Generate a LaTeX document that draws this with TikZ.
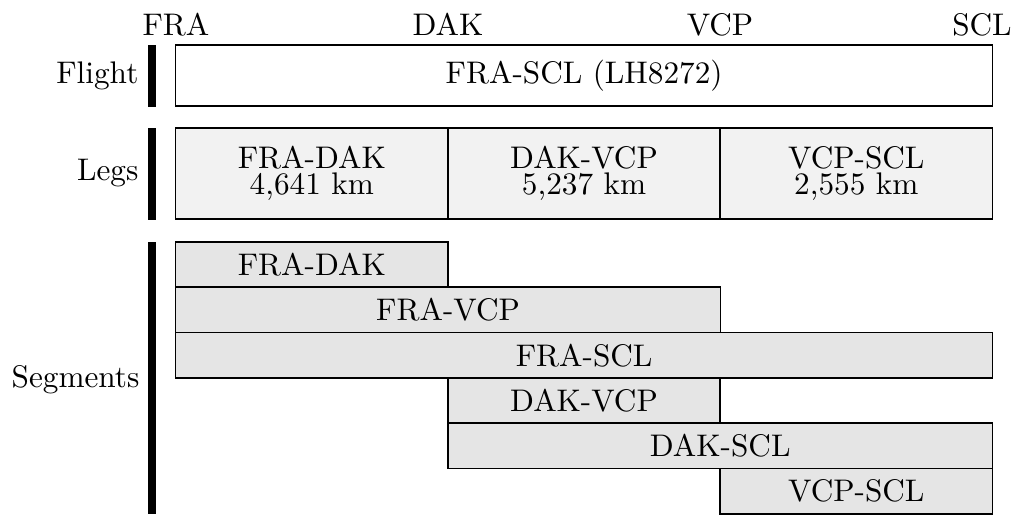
\documentclass[tikz,border=0pt]{standalone}
\usepackage{tikz}
\begin{document}
\begin{tikzpicture}[x=0.32pt,y=-0.32pt,
  box/.style={draw, line width=0.5pt, inner sep=0pt, outer sep=0pt, anchor=north west, align=center},
  flightbox/.style={box, fill=white, minimum width=261.4pt, minimum height=19.5pt},
  legbox/.style={box, fill=gray!10, minimum width=87.1pt, minimum height=29.2pt},
  segbox/.style={box, fill=gray!20, minimum height=14.5pt},
  one/.style={minimum width=87.1pt},
  two/.style={minimum width=174.3pt},
  three/.style={minimum width=261.4pt},
  stop/.style={anchor=base, inner sep=0pt},
  rowlabel/.style={anchor=east, inner sep=0pt},
  bar/.style={fill=black}]
\useasboundingbox (0,0) rectangle (1024,514);

% airports along the route
\node[stop] (fra) at (176,35) {FRA};
\node[stop] (dak) at (448,35) {DAK};
\node[stop] (vcp) at (720,35) {VCP};
\node[stop] (scl) at (982,35) {SCL};

% group bars
\fill[bar] (147.5,45) rectangle (155.5,106.5);
\fill[bar] (147.5,128) rectangle (155.5,219.5);
\fill[bar] (147.5,241.7) rectangle (155.5,514);

% row labels
\node[rowlabel] (lflight) at (139,75.5) {Flight};
\node[rowlabel] (llegs) at (139,173.5) {Legs};
\node[rowlabel] (lsegs) at (140,380) {Segments};

% flight
\node[flightbox] (flight) at (175.7,45) {FRA-SCL (LH8272)};

% legs
\node[legbox] (leg1) at (175.7,128) {FRA-DAK\\[-3.7pt]4,641 km};
\node[legbox] (leg2) at (447.9,128) {DAK-VCP\\[-3.7pt]5,237 km};
\node[legbox] (leg3) at (720.2,128) {VCP-SCL\\[-3.7pt]2,555 km};

% segments
\node[segbox, one]   (s1) at (175.7,241.9) {FRA-DAK};
\node[segbox, two]   (s2) at (175.7,287.2) {FRA-VCP};
\node[segbox, three] (s3) at (175.7,332.5) {FRA-SCL};
\node[segbox, one]   (s4) at (447.9,377.8) {DAK-VCP};
\node[segbox, two]   (s5) at (447.9,423.1) {DAK-SCL};
\node[segbox, one]   (s6) at (720.2,468.4) {VCP-SCL};
\end{tikzpicture}
\end{document}
